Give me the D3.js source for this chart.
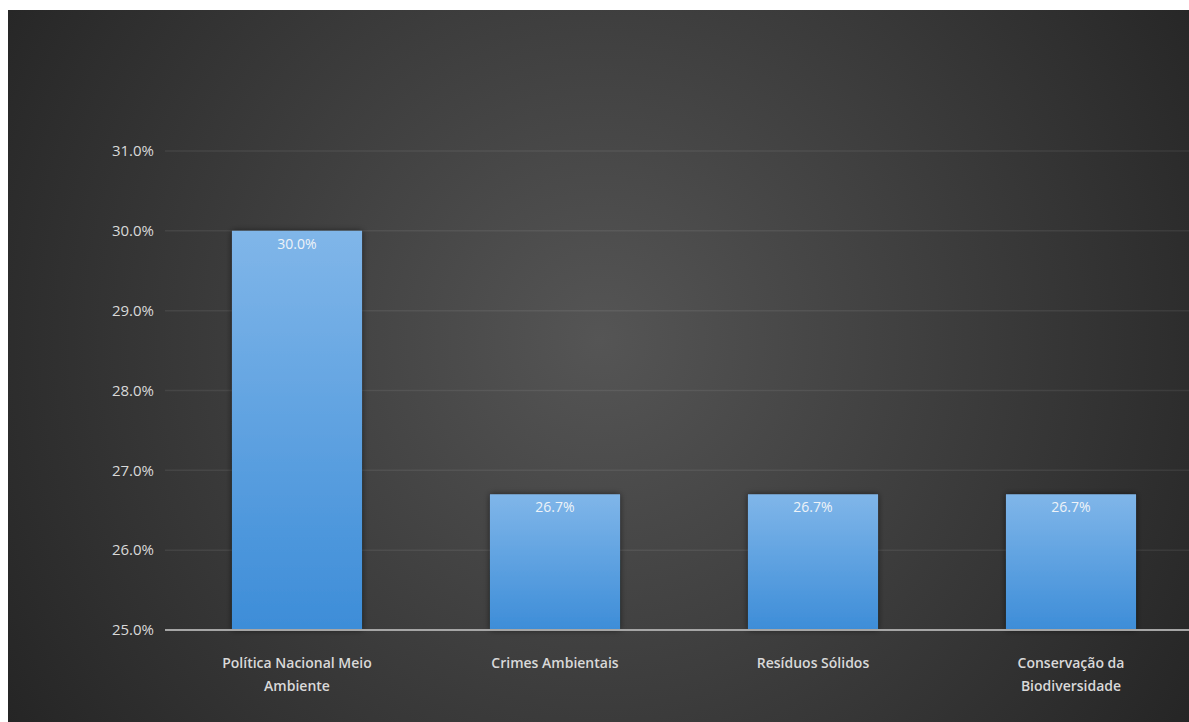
<!DOCTYPE html>
<html>
<head>
<meta charset="utf-8">
<script src="https://cdn.jsdelivr.net/npm/d3@7"></script>
<style>
  html, body { margin: 0; padding: 0; background: #fff; }
  svg { display: block; }
</style>
</head>
<body>
<script>
'use strict'

var w = 1189;
var h = 722;

// data
var categories = [
  ["Política Nacional Meio", "Ambiente"],
  ["Crimes Ambientais"],
  ["Resíduos Sólidos"],
  ["Conservação da", "Biodiversidade"]
];
var values = [30.0, 26.7, 26.7, 26.7];
var yTicks = [25, 26, 27, 28, 29, 30, 31];

var margin = {left: 168, top: 151, bottom: 630};

var svg = d3.select("body")
  .append("svg")
  .attr("width", w)
  .attr("height", h);

var defs = svg.append("defs");

// dark radial background
var bg = defs.append("radialGradient")
  .attr("id", "bg")
  .attr("gradientUnits", "userSpaceOnUse")
  .attr("cx", 600).attr("cy", 340).attr("r", 720);
bg.append("stop").attr("offset", "0%").attr("stop-color", "#555555");
bg.append("stop").attr("offset", "55%").attr("stop-color", "#3a3a3a");
bg.append("stop").attr("offset", "100%").attr("stop-color", "#242424");

var barGrad = defs.append("linearGradient")
  .attr("id", "bar")
  .attr("x1", 0).attr("y1", 0).attr("x2", 0).attr("y2", 1);
barGrad.append("stop").attr("offset", "0%").attr("stop-color", "#80b6e9");
barGrad.append("stop").attr("offset", "100%").attr("stop-color", "#3d8dd8");

var shadow = defs.append("filter")
  .attr("id", "shadow")
  .attr("x", "-20%").attr("y", "-20%").attr("width", "140%").attr("height", "140%");
shadow.append("feDropShadow")
  .attr("dx", 0).attr("dy", 0).attr("stdDeviation", 3)
  .attr("flood-color", "#000").attr("flood-opacity", 0.55);

svg.append("rect")
  .attr("x", 8).attr("y", 10)
  .attr("width", w - 8).attr("height", h - 10)
  .attr("fill", "url(#bg)");

var x = d3.scaleBand()
  .domain(d3.range(values.length))
  .range([margin.left, margin.left + 258 * values.length])
  .paddingInner(0.496)
  .paddingOuter(0.248);

var y = d3.scaleLinear()
  .domain([25, 31])
  .range([margin.bottom, margin.top]);

// gridlines
svg.append("g")
  .selectAll("line")
  .data(yTicks.slice(1))
  .enter()
  .append("line")
  .attr("x1", 165).attr("x2", w)
  .attr("y1", function(d) { return y(d); })
  .attr("y2", function(d) { return y(d); })
  .attr("stroke", "#ffffff")
  .attr("stroke-opacity", 0.07)
  .attr("stroke-width", 1.5);

// y axis labels
var yAxis = d3.axisLeft(y)
  .tickValues(yTicks)
  .tickSize(0)
  .tickPadding(0)
  .tickFormat(function(d) { return d.toFixed(1) + "%"; });

svg.append("g")
  .attr("transform", "translate(154,0)")
  .call(yAxis)
  .call(function(g) { g.select(".domain").remove(); })
  .selectAll("text")
  .attr("fill", "#d9d9d9")
  .style("font-family", "'Open Sans', sans-serif")
  .style("font-size", "15px");

// bars
svg.append("g")
  .selectAll("rect")
  .data(values)
  .enter()
  .append("rect")
  .attr("x", function(d, i) { return x(i); })
  .attr("y", function(d) { return y(d); })
  .attr("width", x.bandwidth())
  .attr("height", function(d) { return y(25) - y(d); })
  .attr("fill", "url(#bar)")
  .attr("filter", "url(#shadow)");

// data labels
svg.append("g")
  .selectAll("text")
  .data(values)
  .enter()
  .append("text")
  .attr("x", function(d, i) { return x(i) + x.bandwidth() / 2; })
  .attr("y", function(d) { return y(d) + 18; })
  .attr("text-anchor", "middle")
  .attr("fill", "#eef3f8")
  .style("font-family", "'Open Sans', sans-serif")
  .style("font-size", "14px")
  .text(function(d) { return d.toFixed(1) + "%"; });

// baseline
svg.append("line")
  .attr("x1", 165).attr("x2", w)
  .attr("y1", y(25)).attr("y2", y(25))
  .attr("stroke", "#a6a6a6")
  .attr("stroke-width", 2);

// category labels
var cats = svg.append("g")
  .selectAll("text")
  .data(categories)
  .enter()
  .append("text")
  .attr("text-anchor", "middle")
  .attr("fill", "#d9d9d9")
  .style("font-family", "'Open Sans', sans-serif")
  .style("font-size", "14px")
  .style("font-weight", "600");

cats.selectAll("tspan")
  .data(function(d, i) {
    return d.map(function(line) { return {line: line, i: i}; });
  })
  .enter()
  .append("tspan")
  .attr("x", function(d) { return x(d.i) + x.bandwidth() / 2; })
  .attr("y", function(d, j) { return 668 + j * 23; })
  .text(function(d) { return d.line; });
</script>
</body>
</html>
